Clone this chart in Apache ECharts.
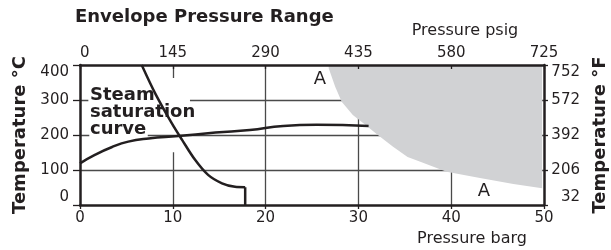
<!DOCTYPE html>
<html>
<head>
<meta charset="UTF-8">
<title>Envelope Pressure Range</title>
<script src="https://cdn.jsdelivr.net/npm/echarts@6/dist/echarts.min.js"></script>
<style>
  html, body { margin: 0; padding: 0; background: #fff; }
  #chart { width: 611px; height: 250px; }
</style>
</head>
<body>
<div id="chart"></div>
<script type="text/javascript">
// axes: bottom barg, top psig (same span), left °C, right °F
var bargTicks = [0, 10, 20, 30, 40, 50];
var psigTicks = [0, 145, 290, 435, 580, 725];
var tempCTicks = [0, 100, 200, 300, 400];
var tempFTicks = ['32', '206', '392', '572', '752'];

// steam saturation curve  [barg, °C]
var saturation = [[0, 119], [1.6, 143], [3.4, 165], [5.2, 181], [7.4, 190], [10.6, 197],
    [14.6, 207], [18.3, 214], [21.9, 226], [25.5, 229], [31.1, 226]];

// falling boundary curve, then its drop to the axis
var falling = [[6.65, 400], [8.1, 319], [9.9, 233], [11.0, 186], [12.4, 129], [13.8, 86],
    [15.3, 62], [16.7, 52], [17.8, 51]];
var fallingDrop = [[17.8, 51], [17.8, 0]];

// lower edge of the grey region A (filled up to 400 °C)
var regionA = [[26.8, 400], [26.8, 391], [27.5, 338], [28.2, 295], [29.4, 257], [30.5, 234],
    [32.1, 200], [33.7, 167], [35.3, 137], [36.6, 124], [39.5, 95], [43.1, 77],
    [46.7, 60], [49.8, 48]];

// grid lines: horizontal [°C, from barg, to barg], vertical [barg, from °C, to °C]
var gridH = [[300, 0, 0.9], [300, 11.85, 50], [200, 0, 1.0], [200, 7.3, 50], [100, 0, 50]];
var gridV = [[10, 0, 151], [10, 363, 400], [20, 0, 400], [30, 0, 400], [40, 0, 400]];

var ink = '#231f20';
var font = 'DejaVu Sans';

var segs = [];
gridH.forEach(function (g) { segs.push({coords: [[g[1], g[0]], [g[2], g[0]]]}); });
gridV.forEach(function (g) { segs.push({coords: [[g[0], g[1]], [g[0], g[2]]]}); });

var chart = echarts.init(document.getElementById('chart'));
chart.setOption({
    animation: false,
    backgroundColor: '#fff',
    title: {
        text: 'Envelope Pressure Range',
        left: 75,
        top: 8,
        padding: 0,
        textStyle: {fontFamily: font, fontSize: 18, fontWeight: 'bold', color: ink}
    },
    grid: {left: 80, right: 67, top: 65, bottom: 45, outerBoundsMode: 'none'},
    xAxis: [{
        type: 'value', position: 'bottom', min: 0, max: 50, interval: 10, z: 10,
        axisLine: {onZero: false, lineStyle: {color: ink, width: 2.5}},
        axisTick: {length: 4, lineStyle: {color: ink, width: 1.3}},
        axisLabel: {margin: 6, fontFamily: font, fontSize: 15, color: ink},
        splitLine: {show: false}
    }, {
        type: 'value', position: 'top', min: 0, max: 725, interval: 145, z: 10,
        axisLine: {onZero: false, lineStyle: {color: ink, width: 2.5}},
        axisTick: {inside: true, length: 4, lineStyle: {color: ink, width: 1.3}},
        axisLabel: {margin: 4, fontFamily: font, fontSize: 15, color: ink, alignMinLabel: 'left'},
        splitLine: {show: false}
    }],
    yAxis: [{
        type: 'value', position: 'left', min: 0, max: 400, interval: 100, z: 10,
        name: 'Temperature °C', nameLocation: 'middle', nameGap: 50, nameRotate: 90,
        nameTextStyle: {fontFamily: font, fontSize: 18, fontWeight: 'bold', color: ink},
        axisLine: {show: true, onZero: false, lineStyle: {color: ink, width: 2.5}},
        axisTick: {show: true, length: 7, lineStyle: {color: ink, width: 1.3}},
        axisLabel: {margin: 11, fontFamily: font, fontSize: 15, color: ink,
            verticalAlignMaxLabel: 'top', verticalAlignMinLabel: 'bottom'},
        splitLine: {show: false}
    }, {
        type: 'value', position: 'right', min: 0, max: 400, interval: 100, z: 10,
        name: 'Temperature °F', nameLocation: 'middle', nameGap: 45, nameRotate: 90,
        nameTextStyle: {fontFamily: font, fontSize: 18, fontWeight: 'bold', color: ink},
        axisLine: {show: true, onZero: false, lineStyle: {color: ink, width: 2.5}},
        axisTick: {show: true, length: 4, lineStyle: {color: ink, width: 1.3}},
        axisLabel: {
            margin: 36, align: 'right', fontFamily: font, fontSize: 15, color: ink,
            verticalAlignMaxLabel: 'top', verticalAlignMinLabel: 'bottom',
            formatter: function (v) { return tempFTicks[tempCTicks.indexOf(v)]; }
        },
        splitLine: {show: false}
    }],
    graphic: [
        {type: 'text', x: 465, y: 31, style: {text: 'Pressure psig', font: '16px "DejaVu Sans"', fill: ink, align: 'center', verticalAlign: 'middle'}},
        {type: 'text', x: 472, y: 239, style: {text: 'Pressure barg', font: '16px "DejaVu Sans"', fill: ink, align: 'center', verticalAlign: 'middle'}},
        {type: 'text', x: 90, y: 87, z: 1, style: {text: 'Steam\nsaturation\ncurve', font: 'bold 18px "DejaVu Sans"', lineHeight: 17, fill: ink, align: 'left', verticalAlign: 'top'}},
        {type: 'text', x: 320, y: 79, style: {text: 'A', font: '18px "DejaVu Sans"', fill: ink, align: 'center', verticalAlign: 'middle'}},
        {type: 'text', x: 484, y: 191, style: {text: 'A', font: '18px "DejaVu Sans"', fill: ink, align: 'center', verticalAlign: 'middle'}}
    ],
    series: [{
        type: 'lines', coordinateSystem: 'cartesian2d', silent: true, z: 1,
        lineStyle: {color: '#4a4a4a', width: 1.3, opacity: 1},
        data: segs
    }, {
        name: 'Region A', type: 'line', z: 2, silent: true, symbol: 'none',
        lineStyle: {width: 0},
        areaStyle: {color: '#d1d2d4', opacity: 1, origin: 'end'},
        data: regionA
    }, {
        name: 'Steam saturation curve', type: 'line', z: 3, symbol: 'none', smooth: 0.5,
        lineStyle: {color: ink, width: 2.5},
        data: saturation
    }, {
        name: 'Boundary', type: 'line', z: 3, symbol: 'none', smooth: 0.3,
        lineStyle: {color: ink, width: 2.5},
        data: falling
    }, {
        name: 'Boundary drop', type: 'line', z: 3, symbol: 'none',
        lineStyle: {color: ink, width: 2.5},
        data: fallingDrop
    }]
});
</script>
</body>
</html>
